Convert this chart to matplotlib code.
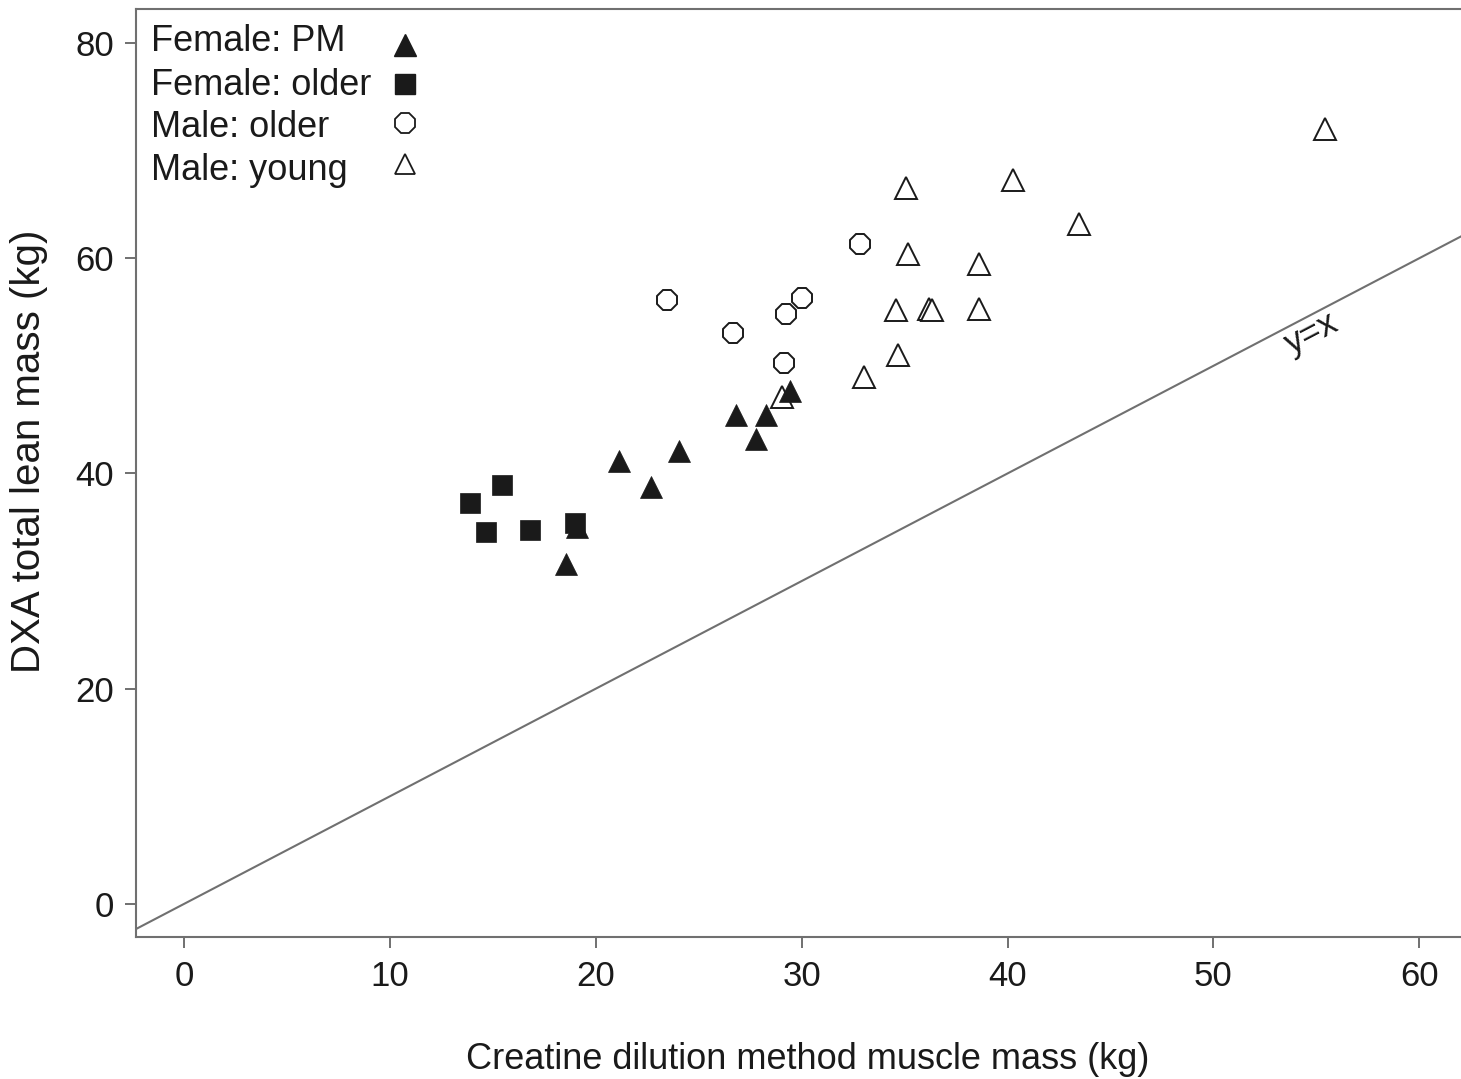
import matplotlib
matplotlib.use("Agg")
import matplotlib.pyplot as plt
from matplotlib.lines import Line2D

plt.rcParams['font.family'] = ['Liberation Sans', 'DejaVu Sans']

# Female: PM (filled triangles)
fpm_x = [18.56, 19.06, 21.12, 22.67, 24.03, 26.79, 28.25, 27.76, 29.43]
fpm_y = [31.61, 35.02, 41.17, 38.71, 42.08, 45.46, 45.46, 43.20, 47.66]
# Female: older (filled squares)
fold_x = [15.45, 13.88, 14.66, 16.81, 18.97]
fold_y = [38.90, 37.22, 34.58, 34.77, 35.36]
# Male: older (open octagons)
mold_x = [32.83, 23.45, 26.67, 30.01, 29.22, 29.12]
mold_y = [61.33, 56.09, 53.08, 56.28, 54.79, 50.29]
# Male: young (open triangles)
myng_x = [35.08, 40.25, 43.47, 35.17, 38.59, 34.58, 36.19, 36.33, 38.59, 34.67, 33.02, 29.05, 55.40]
myng_y = [66.53, 67.28, 63.16, 60.37, 59.44, 55.16, 55.26, 55.19, 55.31, 51.01, 48.96, 47.13, 71.99]

labels = ["Female: PM", "Female: older", "Male: older", "Male: young"]
xticks = [0, 10, 20, 30, 40, 50, 60]
yticks = [0, 20, 40, 60, 80]

dark = "#1a1a1a"
grey = "#707070"

fig = plt.figure(figsize=(14.61, 10.79), dpi=100)
ax = fig.add_axes([136/1461, (1079-937.3)/1079, 1 - 136/1461, (937.3-9)/1079])

ax.axline((0, 0), slope=1, color=grey, lw=1.5, zorder=1)

ax.plot(myng_x, myng_y, ls='none', marker='^', ms=15.5, mfc='white', mec=dark, mew=1.4, zorder=3)
ax.plot(mold_x, mold_y, ls='none', marker='8', ms=15.5, mfc='white', mec=dark, mew=1.4, zorder=3)
ax.plot(fpm_x, fpm_y, ls='none', marker='^', ms=16, mfc=dark, mec=dark, mew=0.5, zorder=4)
ax.plot(fold_x, fold_y, ls='none', marker='s', ms=15, mfc=dark, mec=dark, mew=0.5, zorder=5)

ax.set_xlim(-2.35, 62.03)
ax.set_ylim(-3.12, 83.17)
ax.set_xticks(xticks)
ax.set_yticks(yticks)
ax.tick_params(axis='both', direction='out', length=8, width=1.4, color=grey,
               labelsize=25, labelcolor=dark, pad=8)
for s in ['left', 'bottom', 'top']:
    ax.spines[s].set_color(grey)
    ax.spines[s].set_linewidth(1.5)
ax.spines['right'].set_visible(False)

ax.set_xlabel("Creatine dilution method muscle mass (kg)", fontsize=26, color=dark)
ax.set_ylabel("DXA total lean mass (kg)", fontsize=29, color=dark)
ax.xaxis.set_label_coords(0.507, -0.113)
ax.yaxis.set_label_coords(-0.0665, 0.523)

ax.text(54.8, 53.0, "y=x", rotation=27.6, rotation_mode='anchor', ha='center', va='center',
        fontsize=25, color=dark)

# legend (text left-aligned, markers in a column on the right)
row_y = [0.9645, 0.918, 0.872, 0.8255]
styles = [dict(marker='^', mfc=dark, mec=dark, ms=15.5),
          dict(marker='s', mfc=dark, mec=dark, ms=14.5),
          dict(marker='8', mfc='white', mec=dark, ms=15.5, mew=1.3),
          dict(marker='^', mfc='white', mec=dark, ms=14.5, mew=1.3)]
mk_y = [0.9615, 0.9195, 0.8775, 0.8335]
for lab, ry, st, my in zip(labels, row_y, styles, mk_y):
    ax.text(0.0113, ry, lab, transform=ax.transAxes, ha='left', va='center', fontsize=26, color=dark)
    ax.add_line(Line2D([0.203], [my], transform=ax.transAxes, ls='none', **st))

fig.savefig("out.png", dpi=100)
